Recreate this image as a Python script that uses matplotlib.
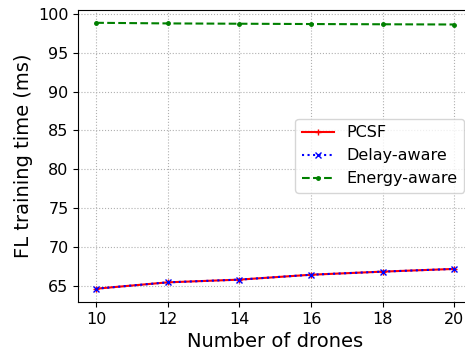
import matplotlib
matplotlib.use("Agg")
import matplotlib.pyplot as plt

drones = [10, 12, 14, 16, 18, 20]
pcsf = [64.6, 65.42, 65.77, 66.4, 66.8, 67.15]
delay_aware = [64.6, 65.42, 65.77, 66.4, 66.8, 67.15]
energy_aware = [98.88, 98.8, 98.76, 98.72, 98.69, 98.66]

fig = plt.figure(figsize=(4.65, 3.54), dpi=100)
# the plot area runs slightly past the right edge of the canvas
ax = fig.add_axes([78.3 / 465, 52 / 354, (472 - 78.3) / 465, (302 - 9.5) / 354])

ax.plot(drones, pcsf, color="red", linestyle="-", marker="+", markersize=5, label="PCSF")
ax.plot(drones, delay_aware, color="blue", linestyle=":", marker="x", markersize=5, label="Delay-aware")
ax.plot(drones, energy_aware, color="green", linestyle="--", marker=".", markersize=5, label="Energy-aware")

ax.set_xticks(drones)
ax.set_yticks([65, 70, 75, 80, 85, 90, 95, 100])
ax.tick_params(labelsize=11.5)
ax.set_xlabel("Number of drones", fontsize=14)
ax.set_ylabel("FL training time (ms)", fontsize=14)
ax.grid(True, linestyle=":", color="#b0b0b0")
ax.spines["right"].set_visible(False)
ax.legend(loc="center right", fontsize=11.5)

fig.savefig("out.png", dpi=100)
